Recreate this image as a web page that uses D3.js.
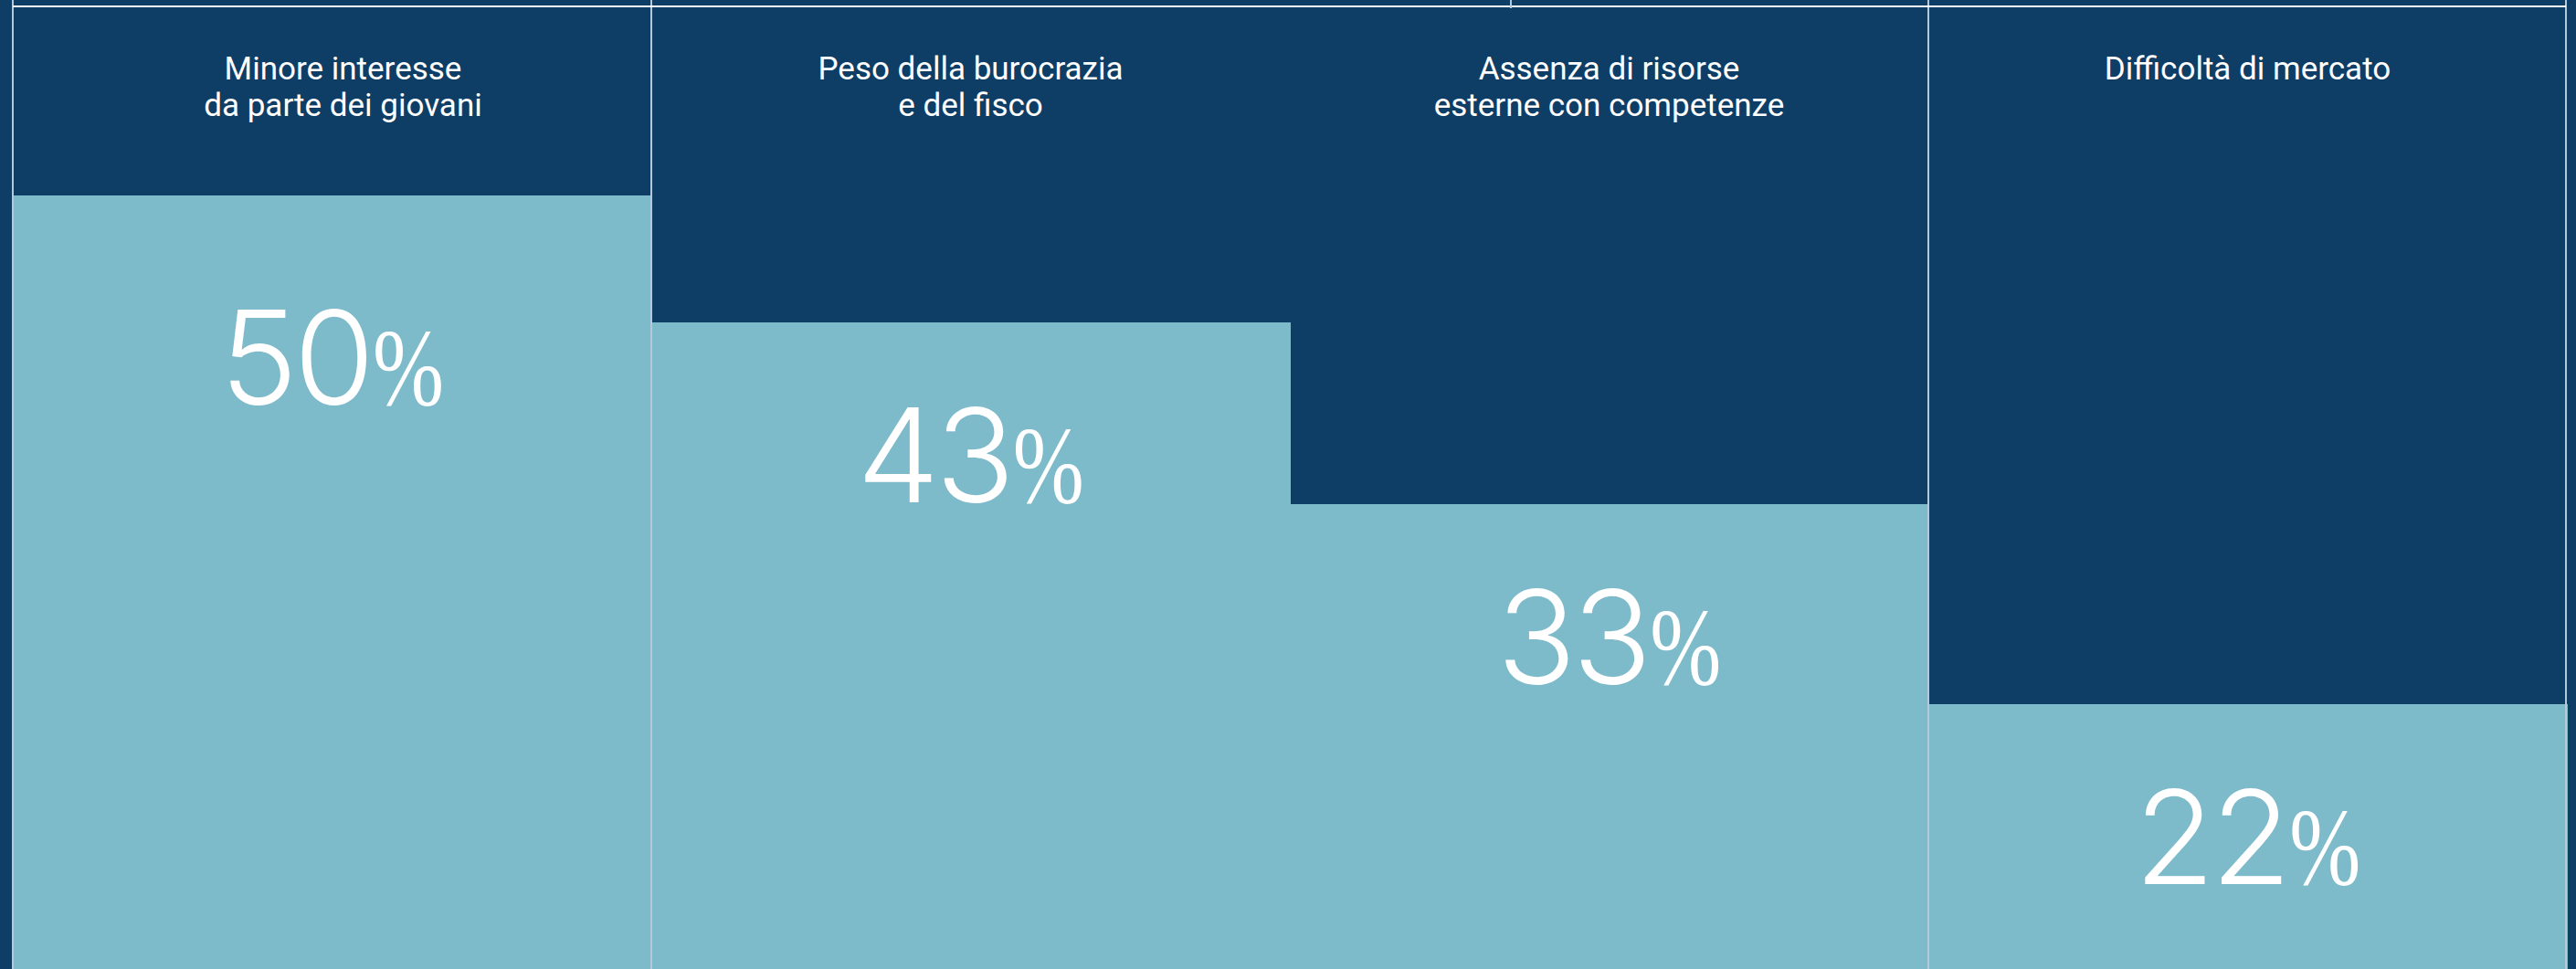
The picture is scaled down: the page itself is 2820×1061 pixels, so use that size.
<!DOCTYPE html>
<html>
<head>
<meta charset="utf-8">
<script src="https://cdn.jsdelivr.net/npm/d3@7"></script>
<style>
  html, body { margin: 0; padding: 0; background: #0e3d66; }
  svg { display: block; }
</style>
</head>
<body>
<svg id="chart" width="2820" height="1061"></svg>
<script>
// ---- data ----
const categories = [
  ["Minore interesse", "da parte dei giovani"],
  ["Peso della burocrazia", "e del fisco"],
  ["Assenza di risorse", "esterne con competenze"],
  ["Difficoltà di mercato"]
];
const values = [50, 43, 33, 22];
const valueSuffix = "%";

// ---- layout ----
const W = 2820, H = 1061;
const dark = "#0e3d66", light = "#7dbaca";
const svg = d3.select("#chart");

const x = d3.scaleBand().domain(d3.range(values.length)).rangeRound([14, 2810]).padding(0);
const y = d3.scaleLinear().domain([0, 50]).range([1209, 213.5]);

svg.append("rect").attr("width", W).attr("height", H).attr("fill", dark);

// light bars
svg.append("g").attr("shape-rendering", "crispEdges")
  .selectAll("rect").data(values).join("rect")
  .attr("x", (d, i) => x(i))
  .attr("width", x.bandwidth() + 1)
  .attr("y", d => Math.round(y(d)))
  .attr("height", d => H - Math.round(y(d)))
  .attr("fill", light);

// divider lines
const boundaries = [0, 1, 3, 4].map(i => i < values.length ? x(i) : x.range()[1] - 1);
svg.append("g").selectAll("line").data(boundaries).join("line")
  .attr("x1", d => d).attr("x2", d => d)
  .attr("y1", 0).attr("y2", H)
  .attr("stroke", "#b4c9da").attr("stroke-width", 2);

// top line
svg.append("line")
  .attr("x1", x.range()[0]).attr("x2", x.range()[1] - 1)
  .attr("y1", 7).attr("y2", 7)
  .attr("stroke", "#ffffff").attr("stroke-width", 2);
// small tick at top
svg.append("line")
  .attr("x1", 1654).attr("x2", 1654).attr("y1", 0).attr("y2", 9)
  .attr("stroke", "#b4c9da").attr("stroke-width", 2);

// header labels
const heads = svg.append("g").selectAll("text").data(categories).join("text")
  .attr("x", (d, i) => x(i) + x.bandwidth() / 2 + (i === 0 ? 12 : 0))
  .attr("y", 87)
  .attr("text-anchor", "middle")
  .attr("fill", "#ffffff")
  .attr("font-family", "Roboto, 'Liberation Sans', sans-serif")
  .attr("font-size", 35);
heads.selectAll("tspan").data(d => d).join("tspan")
  .attr("x", function () { return d3.select(this.parentNode).attr("x"); })
  .attr("dy", (d, j) => j === 0 ? 0 : 40)
  .text(d => d);

// value labels
const minBaseline = 443;
values.forEach((v, i) => {
  const cx = x(i) + x.bandwidth() / 2;
  const base = Math.max(y(v) + 197, minBaseline);
  const g = svg.append("g");
  const num = g.append("text")
    .attr("x", 0).attr("y", 0)
    .attr("fill", "#ffffff")
    .attr("font-family", "Inter, Roboto, sans-serif")
    .attr("font-weight", 300)
    .attr("font-size", 143)
    .attr("letter-spacing", -4)
    .text(d3.format("d")(v));
  const w1 = num.node().getComputedTextLength();
  const gap = 2, sx = 0.78;
  const pct = g.append("text")
    .attr("x", 0).attr("y", 0)
    .attr("fill", "#ffffff")
    .style("font-family", "'Liberation Serif', 'DejaVu Serif', serif")
    .attr("font-size", 120)
    .attr("font-weight", 400)
    .attr("transform", `translate(${w1 + gap},0) scale(${sx},1)`)
    .text(valueSuffix);
  const w2 = pct.node().getComputedTextLength() * sx;
  const total = w1 + gap + w2;
  g.attr("transform", `translate(${cx - total / 2},${base})`);
});
</script>
</body>
</html>
